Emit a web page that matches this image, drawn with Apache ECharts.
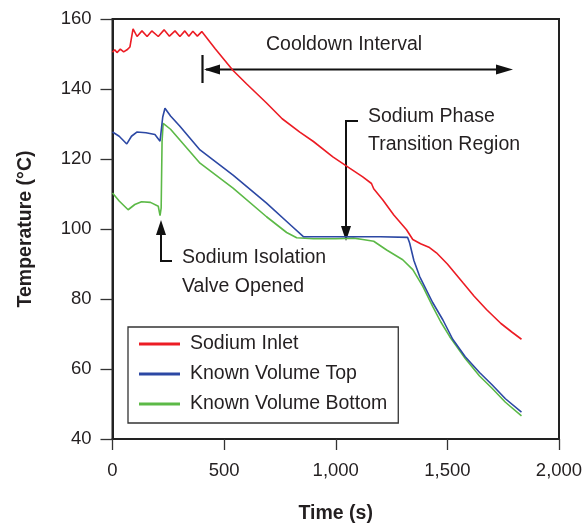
<!DOCTYPE html>
<html>
<head>
<meta charset="utf-8">
<script src="https://cdn.jsdelivr.net/npm/echarts@6/dist/echarts.min.js"></script>
<style>
html,body{margin:0;padding:0;background:#fff;}
#c{width:586px;height:529px;}
</style>
</head>
<body>
<div id="c"></div>
<script>
var FONT = "'Liberation Sans',Arial,sans-serif";
var seriesNames = ['Sodium Inlet', 'Known Volume Top', 'Known Volume Bottom'];
var xTicks = [0, 500, 1000, 1500, 2000];
var yTicks = [40, 60, 80, 100, 120, 140, 160];

var inletTime = [0, 10, 20, 35, 50, 65, 78, 92, 110, 132, 155, 176, 205, 231, 255, 280, 302, 324, 342, 360, 380, 400, 420, 460, 540, 600, 690, 760, 839, 900, 987, 1062, 1121, 1160, 1170, 1211, 1260, 1317, 1345, 1380, 1420, 1451, 1500, 1569, 1620, 1675, 1740, 1790, 1832];
var inletTemp = [150.5, 151.2, 150.4, 151.4, 150.6, 151.2, 152, 157.2, 155.0, 156.6, 155.0, 156.6, 155.0, 156.9, 155.1, 156.6, 155.0, 156.6, 155.1, 156.5, 155.1, 156.4, 154.8, 151.5, 145.3, 141.5, 136, 131.5, 127.7, 125, 120.6, 117.4, 114.9, 113, 111.5, 108.3, 104, 99.8, 97, 95.8, 94.7, 93.2, 90, 84.7, 80.8, 77, 73, 70.5, 68.5];

var topTime = [0, 30, 64, 85, 109, 150, 190, 213, 218, 225, 235, 260, 300, 392, 540, 690, 800, 855, 1000, 1200, 1322, 1331, 1350, 1376, 1434, 1480, 1524, 1580, 1644, 1700, 1760, 1832];
var topTemp = [127.7, 126.5, 124.3, 126.5, 127.7, 127.5, 127, 125.1, 125.5, 132, 134.5, 132.3, 129.5, 122.6, 115.4, 107.4, 101, 97.8, 97.8, 97.8, 97.6, 96, 91, 86.4, 79, 74, 68.5, 63.5, 59, 55.5, 51.5, 47.7];

var bottomTime = [0, 30, 70, 100, 130, 170, 205, 213, 218, 222, 227, 260, 392, 540, 690, 780, 825, 900, 1000, 1080, 1121, 1170, 1228, 1300, 1345, 1390, 1434, 1470, 1510, 1580, 1644, 1700, 1760, 1832];
var bottomTemp = [110.3, 108, 105.5, 107, 107.8, 107.6, 106.5, 103.8, 106, 125, 130.2, 128.5, 118.8, 111.7, 103.5, 99, 97.5, 97.2, 97.2, 97.4, 97, 96.5, 94, 91.2, 88.4, 83.6, 77.9, 73.5, 69.3, 63, 58, 54.5, 50.5, 46.6];

function pairs(t, v) { return t.map(function (x, i) { return [x, v[i]]; }); }

var colors = ['#ec1c24', '#2c48a4', '#5cb947'];
var txt = '#231f20';
var FS = 19.5;

var chart = echarts.init(document.getElementById('c'), null, {renderer: 'canvas'});

function mkSeries(name, t, v, c, z) {
  return {
    name: name, type: 'line', data: pairs(t, v), showSymbol: false, symbol: 'none',
    lineStyle: {color: c, width: 1.6}, itemStyle: {color: c}, z: z, animation: false
  };
}

var option = {
  animation: false,
  backgroundColor: '#fff',
  grid: {left: 112.5, right: 27, top: 19, bottom: 88, show: true, borderColor: '#222', borderWidth: 2, backgroundColor: 'transparent'},
  xAxis: {
    type: 'value', min: xTicks[0], max: xTicks[xTicks.length - 1], interval: 500,
    name: 'Time (s)', nameLocation: 'middle', nameGap: 65,
    nameTextStyle: {fontFamily: FONT, fontSize: FS, fontWeight: 'bold', color: txt},
    axisLine: {show: true, lineStyle: {color: '#222', width: 2}},
    axisTick: {show: true, length: 11, lineStyle: {color: '#333', width: 1.3}},
    axisLabel: {margin: 22, fontFamily: FONT, fontSize: 18.5, color: txt,
      formatter: function (v) { return v.toLocaleString('en-US'); }},
    splitLine: {show: false}
  },
  yAxis: {
    type: 'value', min: yTicks[0], max: yTicks[yTicks.length - 1], interval: 20,
    name: 'Temperature (°C)', nameLocation: 'middle', nameGap: 77, nameRotate: 90,
    nameTextStyle: {fontFamily: FONT, fontSize: FS, fontWeight: 'bold', color: txt},
    axisLine: {show: true, lineStyle: {color: '#222', width: 2}},
    axisTick: {show: true, length: 12, lineStyle: {color: '#333', width: 1.3}},
    axisLabel: {margin: 21, fontFamily: FONT, fontSize: 18.5, color: txt},
    splitLine: {show: false}
  },
  legend: {
    orient: 'vertical', left: 128, top: 327,
    data: seriesNames,
    icon: 'rect', itemWidth: 41, itemHeight: 3, itemGap: 6,
    padding: [5, 11, 7, 11],
    borderColor: '#333', borderWidth: 1.3, backgroundColor: '#fff',
    textStyle: {fontFamily: FONT, fontSize: FS, color: txt, lineHeight: 24, padding: [0, 0, 0, 5]}
  },
  series: [
    mkSeries(seriesNames[0], inletTime, inletTemp, colors[0], 3),
    mkSeries(seriesNames[1], topTime, topTemp, colors[1], 2),
    mkSeries(seriesNames[2], bottomTime, bottomTemp, colors[2], 1)
  ],
  graphic: [
    // Cooldown interval
    {type: 'text', left: 266, top: 35, style: {text: 'Cooldown Interval', font: FS + 'px ' + FONT, fill: txt}},
    {type: 'line', shape: {x1: 202.5, y1: 55, x2: 202.5, y2: 83}, style: {stroke: '#111', lineWidth: 2.2}},
    {type: 'line', shape: {x1: 206, y1: 69.5, x2: 500, y2: 69.5}, style: {stroke: '#111', lineWidth: 2}},
    {type: 'polygon', shape: {points: [[204, 69.5], [220, 64.5], [220, 74.5]]}, style: {fill: '#111'}},
    {type: 'polygon', shape: {points: [[513, 69.5], [496, 64.5], [496, 74.5]]}, style: {fill: '#111'}},
    // Phase transition
    {type: 'text', left: 368, top: 103, style: {text: 'Sodium Phase\nTransition Region', font: FS + 'px ' + FONT, fill: txt, lineHeight: 28}},
    {type: 'polyline', shape: {points: [[358, 121], [346, 121], [346, 230]]}, style: {stroke: '#111', lineWidth: 2, fill: null}},
    {type: 'polygon', shape: {points: [[346, 241], [341, 226], [351, 226]]}, style: {fill: '#111'}},
    // Isolation valve
    {type: 'text', left: 182, top: 243, style: {text: 'Sodium Isolation\nValve Opened', font: FS + 'px ' + FONT, fill: txt, lineHeight: 29}},
    {type: 'polyline', shape: {points: [[172, 261], [161, 261], [161, 232]]}, style: {stroke: '#111', lineWidth: 2, fill: null}},
    {type: 'polygon', shape: {points: [[161, 220], [156, 235], [166, 235]]}, style: {fill: '#111'}}
  ]
};
chart.setOption(option);
</script>
</body>
</html>
